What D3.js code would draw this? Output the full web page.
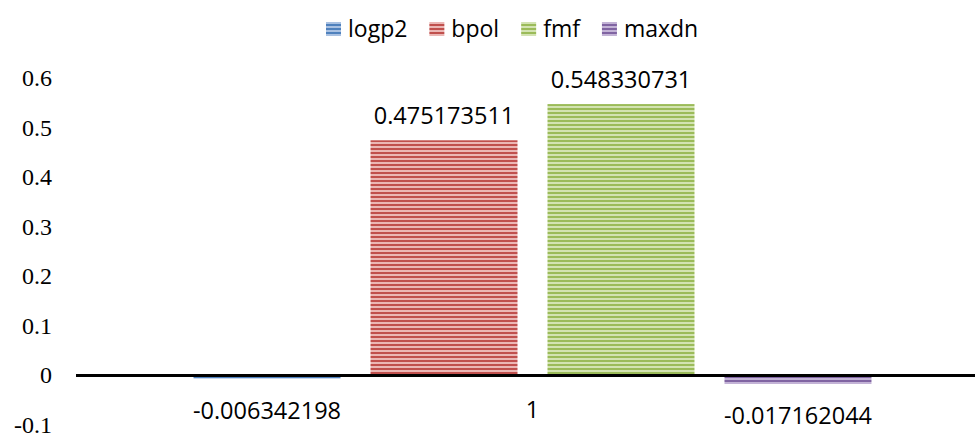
<!DOCTYPE html>
<meta charset="utf-8">
<title>Bar chart</title>
<style>

body {
  margin: 0;
  background-color: white;
}

text {
  fill: black;
}

.value, .category {
  font-family: "Open Sans", sans-serif;
  font-size: 23.5px;
}

.legend text {
  font-family: "Open Sans", sans-serif;
  font-size: 23px;
}

.tick-label {
  font-family: "Liberation Serif", "Times New Roman", serif;
  font-size: 24px;
}

</style>
<body>
<script src="https://cdn.jsdelivr.net/npm/d3@7"></script>
<script>

var categories = ["1"];
var series = ["logp2", "bpol", "fmf", "maxdn"];
var values = [-0.006342198, 0.475173511, 0.548330731, -0.017162044];
var labels = ["-0.006342198", "0.475173511", "0.548330731", "-0.017162044"];
var yTicks = [-0.1, 0, 0.1, 0.2, 0.3, 0.4, 0.5, 0.6];

var colors = {
  logp2: ["#4f81bd", "#a9c1e2"],
  bpol: ["#c0504d", "#ebb7b5"],
  fmf: ["#9bbb59", "#d3e3b2"],
  maxdn: ["#8064a2", "#c3b3d6"]
};

var width = 975,
    height = 435;

var svg = d3.select("body").append("svg")
    .attr("width", width)
    .attr("height", height);

// striped fills, like the old office bars
var defs = svg.append("defs");
series.forEach(function(s) {
  var p = defs.append("pattern")
      .attr("id", "stripe-" + s)
      .attr("patternUnits", "userSpaceOnUse")
      .attr("width", 8)
      .attr("height", 4);
  p.append("rect").attr("width", 8).attr("height", 4).attr("fill", colors[s][1]);
  p.append("rect").attr("y", 0).attr("width", 8).attr("height", 2).attr("fill", colors[s][0]);
});

var y = d3.scaleLinear()
    .domain([-0.1, 0.6])
    .range([425, 78.5]);

var x0 = d3.scaleBand()
    .domain(categories)
    .range([76, 989])
    .paddingOuter(0.1448);

var x1 = d3.scaleBand()
    .domain(series)
    .range([0, x0.bandwidth()])
    .paddingInner(0.1695)
    .paddingOuter(0.0848);

var fmt = d3.formatLocale({decimal: ".", thousands: ",", grouping: [3], currency: ["", ""], minus: "-"}).format(".1~f");

// y tick labels (no axis line)
svg.append("g")
  .selectAll("text")
    .data(yTicks)
  .enter().append("text")
    .attr("class", "tick-label")
    .attr("x", 52)
    .attr("y", function(d) { return y(d); })
    .attr("dy", "0.33em")
    .attr("text-anchor", "end")
    .text(function(d) { return fmt(d); });

var data = series.map(function(s, i) { return {key: s, value: values[i], label: labels[i]}; });

var g = svg.append("g")
    .attr("transform", "translate(" + x0(categories[0]) + ",0)");

g.selectAll("rect")
    .data(data)
  .enter().append("rect")
    .attr("x", function(d) { return x1(d.key); })
    .attr("y", function(d) { return y(Math.max(0, d.value)); })
    .attr("width", x1.bandwidth())
    .attr("height", function(d) { return Math.abs(y(d.value) - y(0)); })
    .attr("fill", function(d) { return "url(#stripe-" + d.key + ")"; });

// zero line
svg.append("line")
    .attr("x1", 76)
    .attr("x2", width)
    .attr("y1", y(0))
    .attr("y2", y(0))
    .attr("stroke", "black")
    .attr("stroke-width", 3);

g.selectAll(".value")
    .data(data)
  .enter().append("text")
    .attr("class", "value")
    .attr("x", function(d) { return x1(d.key) + x1.bandwidth() / 2; })
    .attr("y", function(d) { return d.value >= 0 ? y(d.value) - 16 : y(d.value) + 40; })
    .attr("text-anchor", "middle")
    .text(function(d) { return d.label; });

svg.append("text")
    .attr("class", "category")
    .attr("x", x0(categories[0]) + x0.bandwidth() / 2)
    .attr("y", 418)
    .attr("text-anchor", "middle")
    .text(categories[0]);

// legend
var legend = svg.append("g").attr("class", "legend");
var lx = 326;
series.forEach(function(s) {
  legend.append("rect")
      .attr("x", lx)
      .attr("y", 22)
      .attr("width", 15)
      .attr("height", 14)
      .attr("fill", "url(#stripe-" + s + ")");
  var t = legend.append("text")
      .attr("x", lx + 22)
      .attr("y", 37)
      .text(s);
  lx += 22 + t.node().getComputedTextLength() + 22;
});

</script>
